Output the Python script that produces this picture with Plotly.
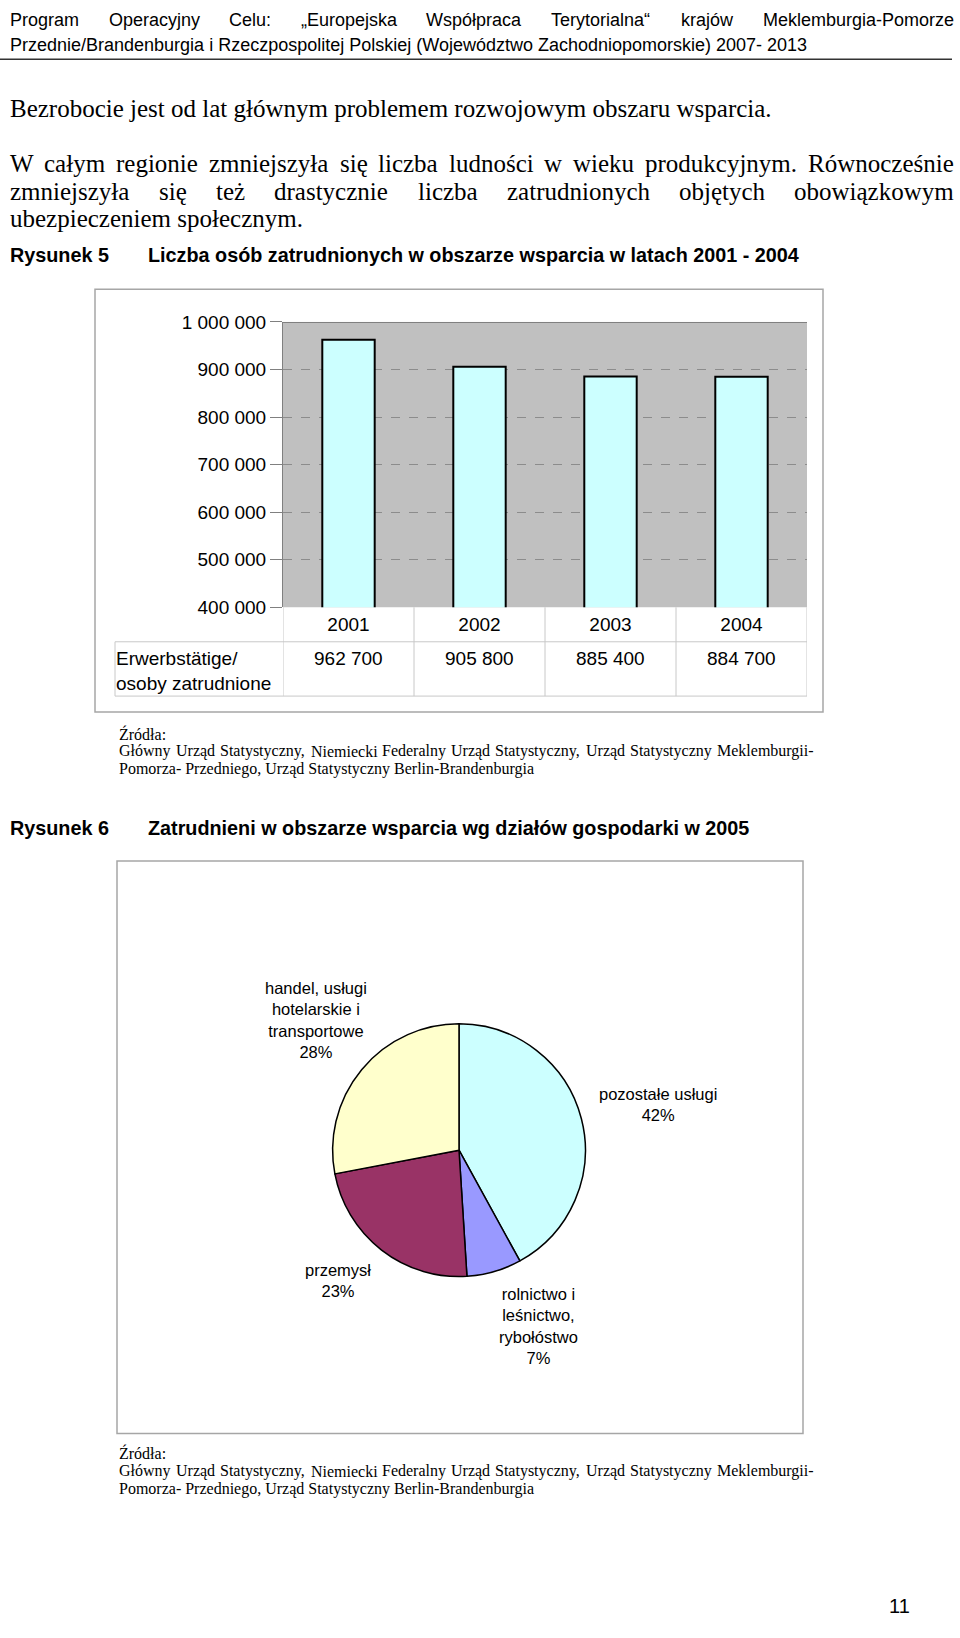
import textwrap
import plotly.graph_objects as go

# ---------------- data ----------------
years = ["2001", "2002", "2003", "2004"]
employed = [962700, 905800, 885400, 884700]
row_label = "Erwerbstätige/<br>osoby zatrudnione"
y_ticks = [400000, 500000, 600000, 700000, 800000, 900000, 1000000]

sectors = ["pozostałe usługi", "rolnictwo i leśnictwo, rybołóstwo",
           "przemysł", "handel, usługi hotelarskie i transportowe"]
shares = [42, 7, 23, 28]
sector_colors = ["#CCFFFF", "#9999FF", "#993366", "#FFFFCC"]

W, H = 960, 1638


def X(px):
    return px / W


def Y(py):
    return 1 - py / H


def fmt(v):
    return f"{v:,}".replace(",", " ")


ARIAL = "Liberation Sans, Arial, sans-serif"
TIMES = "Liberation Serif, Times New Roman, serif"

# approximate glyph widths (1/1000 em) used only to justify lines of text
TIMES_W = dict(zip("abcdefghijklmnopqrstuvwxyz",
                   [444, 500, 444, 500, 444, 333, 500, 500, 278, 278, 500, 278, 778,
                    500, 500, 500, 500, 333, 389, 278, 500, 500, 722, 500, 500, 444]))
TIMES_W.update(dict(zip("ABCDEFGHIJKLMNOPQRSTUVWXYZ",
                        [722, 667, 667, 722, 611, 556, 722, 722, 333, 389, 722, 611, 889,
                         722, 722, 556, 722, 667, 556, 611, 722, 722, 944, 722, 722, 611])))
TIMES_W.update({"ą": 444, "ć": 444, "ę": 444, "ł": 278, "ń": 500, "ó": 500, "ś": 389,
                "ź": 444, "ż": 444, "Ł": 611, "Ó": 722, "Ś": 556, "Ź": 611, "Ż": 611,
                ".": 250, ",": 250, ":": 278, "-": 333, " ": 250})
ARIAL_W = dict(zip("abcdefghijklmnopqrstuvwxyz",
                   [556, 556, 500, 556, 556, 278, 556, 556, 222, 222, 500, 222, 833,
                    556, 556, 556, 556, 333, 500, 278, 556, 500, 722, 500, 500, 500]))
ARIAL_W.update(dict(zip("ABCDEFGHIJKLMNOPQRSTUVWXYZ",
                        [667, 667, 722, 722, 667, 611, 778, 722, 278, 500, 667, 556, 833,
                         722, 778, 667, 778, 722, 667, 611, 722, 667, 944, 667, 667, 611])))
ARIAL_W.update({"ą": 556, "ć": 500, "ę": 556, "ł": 222, "ń": 556, "ó": 556, "ś": 500,
                "ź": 500, "ż": 500, ".": 278, ",": 278, ":": 278, "-": 333, "/": 278,
                "(": 333, ")": 333, "„": 333, "“": 333, " ": 278})


def word_width(word, table, size):
    return sum(table.get(ch, 520) for ch in word) * size / 1000.0


fig = go.Figure()

# bar chart
fig.add_trace(go.Bar(
    x=years, y=employed, width=0.4,
    marker=dict(color="#CCFFFF", line=dict(color="black", width=2)),
    xaxis="x", yaxis="y", showlegend=False, hoverinfo="x+y"))

# pie chart
fig.add_trace(go.Pie(
    labels=sectors, values=shares, sort=False, direction="clockwise",
    rotation=0, textinfo="none", showlegend=False,
    marker=dict(colors=sector_colors, line=dict(color="black", width=1.5)),
    domain=dict(x=[X(331), X(587)], y=[Y(1283), Y(1027)])))

ann = []
shapes = []


def text(x, y, s, size, font=ARIAL, anchor="left", bold=False, align="left"):
    if bold:
        s = "<b>" + s + "</b>"
    ann.append(dict(x=X(x), y=Y(y), xref="paper", yref="paper", text=s,
                    showarrow=False, xanchor=anchor, yanchor="middle", align=align,
                    font=dict(family=font, size=size, color="black")))


def justified(line, y, left, right, size, font, table):
    words = line.split()
    widths = [word_width(w_, table, size) for w_ in words]
    gap = (right - left - sum(widths)) / (len(words) - 1)
    x = left
    for w_, wd in zip(words, widths):
        text(x, y, w_, size, font)
        x += wd + gap


# header
HDR = 18
justified("Program Operacyjny Celu: „Europejska Współpraca Terytorialna“ krajów Meklemburgia-Pomorze",
          10, 8, 952, HDR, ARIAL, ARIAL_W)
text(8, 35, "Przednie/Brandenburgia i Rzeczpospolitej Polskiej (Województwo Zachodniopomorskie) 2007- 2013", HDR)
shapes.append(dict(type="line", xref="paper", yref="paper", x0=0, x1=X(952),
                   y0=Y(50), y1=Y(50), line=dict(color="#333333", width=1.5)))

# paragraph
BODY = 25
text(8, 100, "Bezrobocie jest od lat głównym problemem rozwojowym obszaru wsparcia.", BODY, TIMES)
justified("W całym regionie zmniejszyła się liczba ludności w wieku produkcyjnym. Równocześnie",
          155, 8, 952, BODY, TIMES, TIMES_W)
justified("zmniejszyła się też drastycznie liczba zatrudnionych objętych obowiązkowym",
          184, 8, 952, BODY, TIMES, TIMES_W)
text(8, 211, "ubezpieczeniem społecznym.", BODY, TIMES)

# figure 5 caption
CAP = 19.8
text(8, 248, "Rysunek 5", CAP, bold=True)
text(146, 248, "Liczba osób zatrudnionych w obszarze wsparcia w latach 2001 - 2004", CAP, bold=True)

# chart frames
shapes.append(dict(type="rect", xref="paper", yref="paper", x0=X(95), x1=X(823),
                   y0=Y(711), y1=Y(283), line=dict(color="#A6A6A6", width=1.5)))
shapes.append(dict(type="rect", xref="paper", yref="paper", x0=X(117), x1=X(803),
                   y0=Y(1442), y1=Y(862), line=dict(color="#A6A6A6", width=1.5)))

# top border of plot area
shapes.append(dict(type="line", xref="x", yref="y", x0=-0.5, x1=3.5,
                   y0=y_ticks[-1], y1=y_ticks[-1], line=dict(color="#808080", width=2)))

# data table under the bars
CH = 19
tcol = "#C8C8C8"
for i in range(len(years) + 1):
    shapes.append(dict(type="line", xref="x", yref="paper", x0=i - 0.5, x1=i - 0.5,
                       y0=Y(695), y1=Y(605), line=dict(color=tcol, width=1)))
shapes.append(dict(type="line", xref="paper", yref="paper", x0=X(115), x1=X(115),
                   y0=Y(695), y1=Y(640), line=dict(color=tcol, width=1)))
for yy in (640, 695):
    shapes.append(dict(type="line", xref="paper", yref="paper", x0=X(115), x1=X(807),
                       y0=Y(yy), y1=Y(yy), line=dict(color=tcol, width=1)))
text(114, 670, row_label, CH)
for i, v in enumerate(employed):
    ann.append(dict(x=i, y=Y(657), xref="x", yref="paper", text=fmt(v),
                    showarrow=False, xanchor="center", yanchor="middle",
                    font=dict(family=ARIAL, size=CH, color="black")))

# sources
SRC = 16
src = ["Źródła:",
       "Główny Urząd Statystyczny, Niemiecki Federalny Urząd Statystyczny, Urząd Statystyczny Meklemburgii-",
       "Pomorza- Przedniego, Urząd Statystyczny Berlin-Brandenburgia"]
for base in (733, 1462):
    text(117, base, src[0], SRC, TIMES)
    justified(src[1], base + 18, 117, 812, SRC, TIMES, TIMES_W)
    text(117, base + 36, src[2], SRC, TIMES)

# figure 6 caption
text(8, 829, "Rysunek 6", CAP, bold=True)
text(146, 829, "Zatrudnieni w obszarze wsparcia wg działów gospodarki w 2005", CAP, bold=True)

# pie labels
label_pos = [(658, 1109), (538, 1333), (338, 1287), (316, 1023)]
for name, val, (lx, ly) in zip(sectors, shares, label_pos):
    s = "<br>".join(textwrap.wrap(name, 16) + [f"{val}%"])
    ann.append(dict(x=X(lx), y=Y(ly), xref="paper", yref="paper", text=s,
                    showarrow=False, xanchor="center", yanchor="middle",
                    font=dict(family=ARIAL, size=16.5, color="black")))

# page number
text(912, 1617, "11", 20, anchor="right")

fig.update_layout(
    width=W, height=H, margin=dict(l=0, r=0, t=0, b=0),
    paper_bgcolor="white", plot_bgcolor="#C0C0C0",
    annotations=ann, shapes=shapes,
    xaxis=dict(domain=[X(283), X(807)], range=[-0.5, 3.5], type="category",
               showgrid=False, ticks="", tickfont=dict(family=ARIAL, size=CH, color="black"),
               ticklabelstandoff=4, showline=False, fixedrange=True),
    yaxis=dict(domain=[Y(605), Y(316)], range=[y_ticks[0], y_ticks[-1]],
               tickvals=y_ticks, ticktext=[fmt(t) for t in y_ticks],
               tickfont=dict(family=ARIAL, size=CH, color="black"),
               ticks="outside", ticklen=12, tickcolor="#808080", tickwidth=1,
               showline=True, linecolor="#808080", linewidth=1,
               showgrid=True, gridcolor="#8C8C8C", griddash="dash", gridwidth=1,
               zeroline=False, fixedrange=True),
)

fig.write_html("out.html", config={"displayModeBar": False},
               post_script="document.body.style.margin='0px';")
